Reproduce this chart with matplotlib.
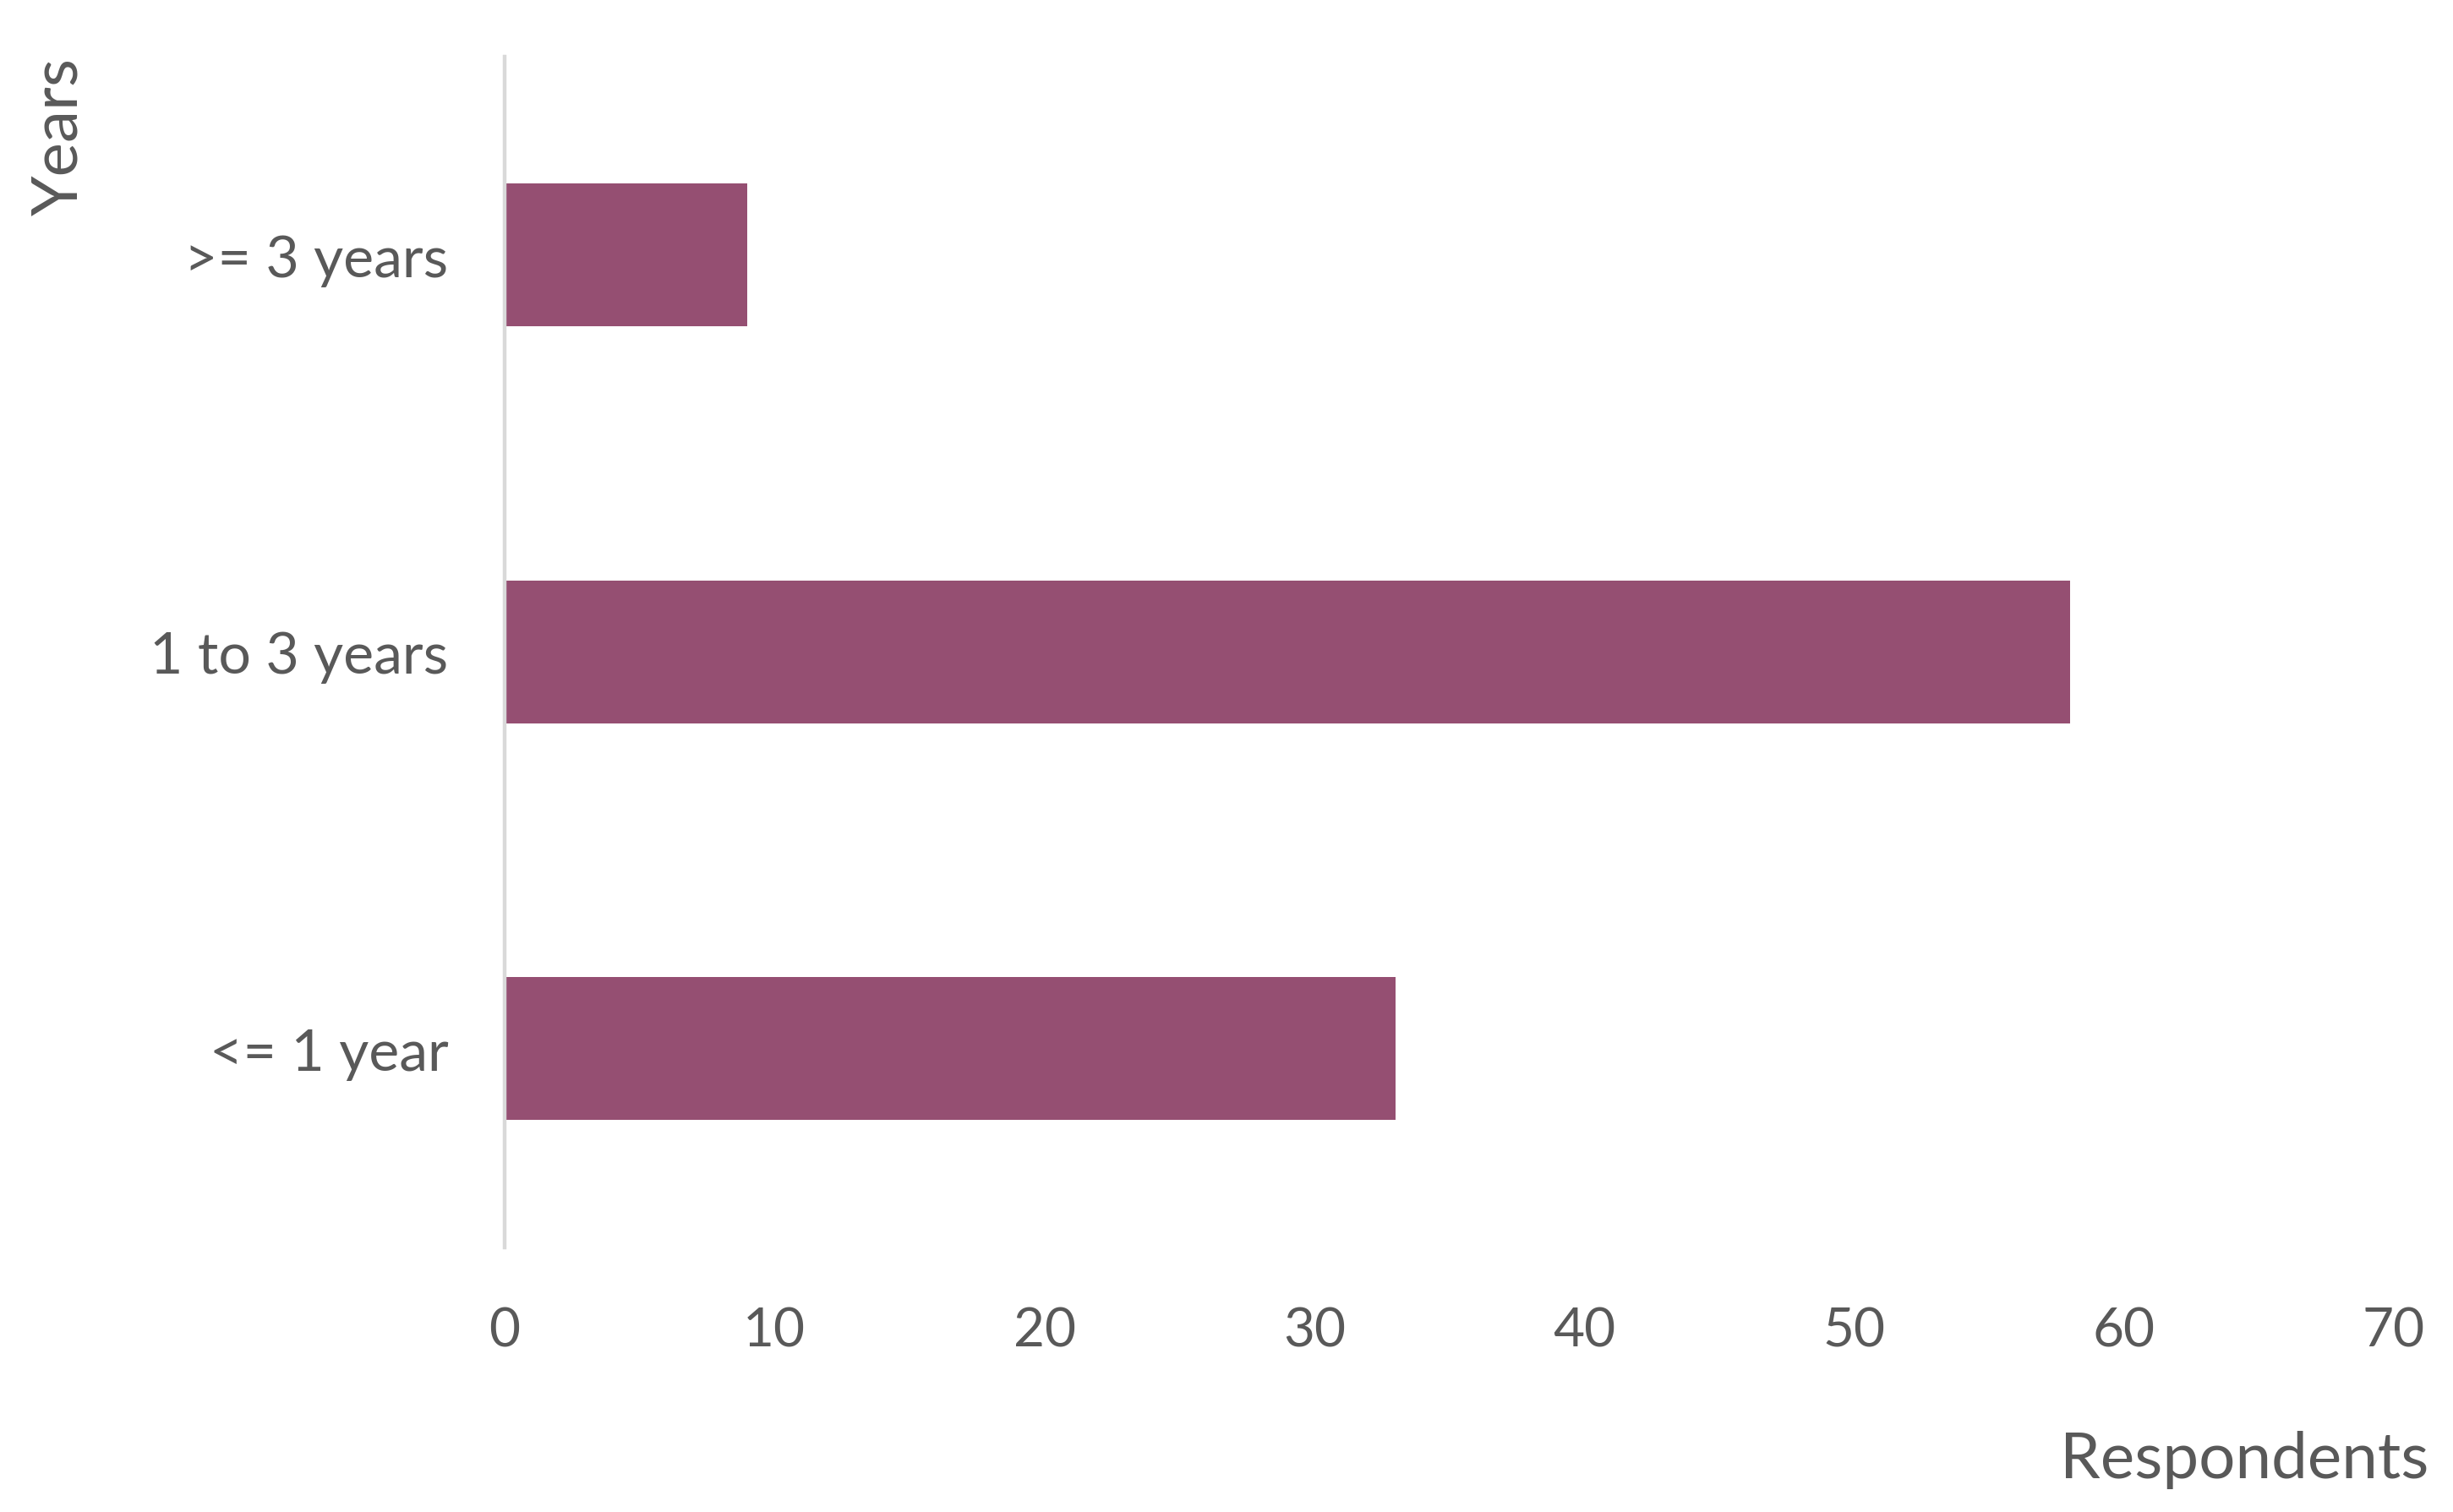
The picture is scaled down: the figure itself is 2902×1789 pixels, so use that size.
import matplotlib.pyplot as plt

categories = ['<= 1 year', '1 to 3 years', '>= 3 years']
respondents = [33, 58, 9]
x_ticks = [0, 10, 20, 30, 40, 50, 60, 70]

bar_color = '#954F72'
text_color = '#595959'

plt.rcParams['font.family'] = ['Lato', 'DejaVu Sans']

fig = plt.figure(figsize=(29.02, 17.90), dpi=100)
ax = fig.add_axes([0.2057, 0.175, 0.9759 - 0.2057, 0.962 - 0.175])

ax.barh(range(len(categories)), respondents, height=0.36, color=bar_color, zorder=2)

ax.set_xlim(0, 70)
ax.set_ylim(-0.5, 2.5)
ax.set_xticks(x_ticks)
ax.set_yticks(range(len(categories)))
ax.set_yticklabels(categories)

for s in ['top', 'right', 'bottom']:
    ax.spines[s].set_visible(False)
ax.spines['left'].set_color('#D9D9D9')
ax.spines['left'].set_linewidth(3.2)

ax.tick_params(axis='x', length=0, pad=50, labelsize=46, labelcolor=text_color)
ax.tick_params(axis='y', length=0, pad=48, labelsize=49, labelcolor=text_color)

fig.text(0.990, 0.035, 'Respondents', ha='right', va='center', fontsize=55, color=text_color)
fig.text(0.024, 0.91, 'Years', ha='center', va='center', rotation=90, fontsize=55, color=text_color)

fig.savefig('out.png', dpi=100)
